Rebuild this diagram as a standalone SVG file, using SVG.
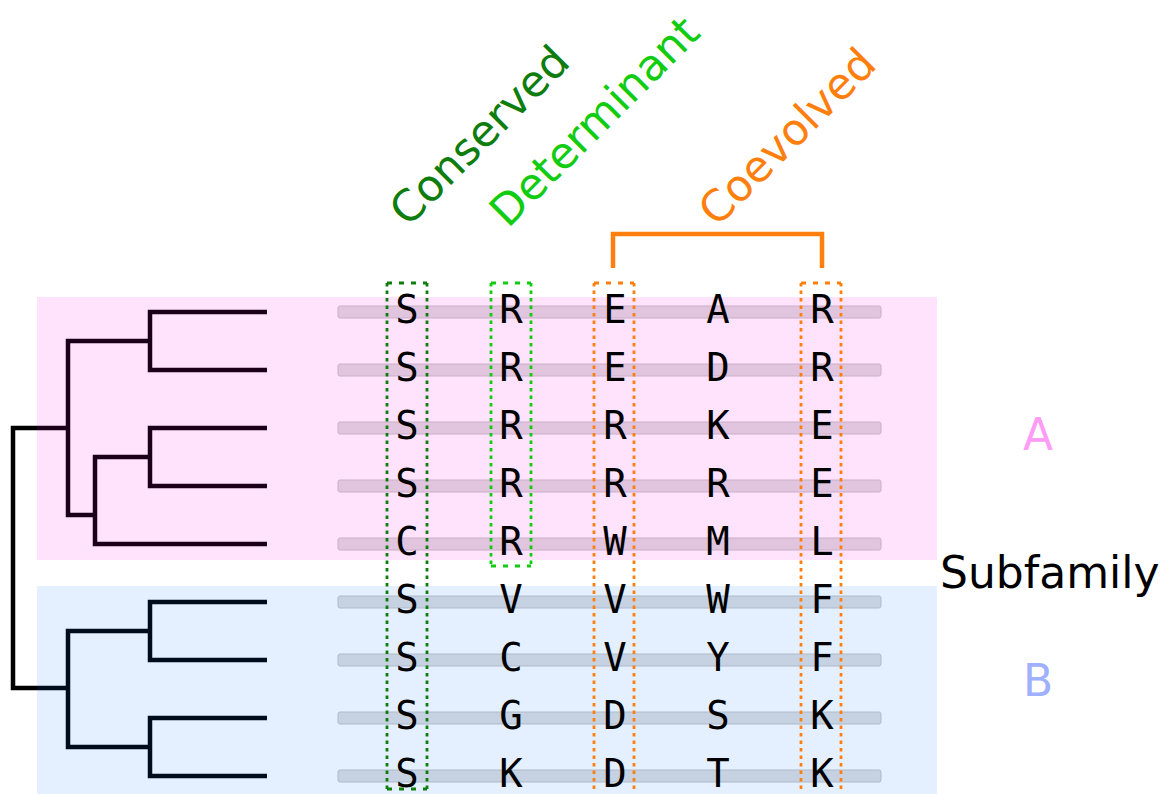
<svg xmlns="http://www.w3.org/2000/svg" width="1163" height="795" viewBox="0 0 1163 795">
<style>
.br{fill:none;stroke:#000;stroke-width:4.5;stroke-linejoin:miter;stroke-linecap:butt}
.bar{fill:#dedede;stroke:#c4c4c4;stroke-width:1}
.aa{font-family:"DejaVu Sans Mono","Liberation Mono",monospace;font-size:39px;fill:#000;text-anchor:middle}
.lbl{font-family:"DejaVu Sans","Liberation Sans",sans-serif;font-size:43.5px}
.big{font-family:"DejaVu Sans","Liberation Sans",sans-serif;font-size:44px}
.dh{fill:none;stroke-width:2.8;stroke-dasharray:5 7}
.dv{fill:none;stroke-width:2.8;stroke-dasharray:3.5 4}
.cons{stroke:#0e7d0e}
.det{stroke:#11cc11}
.coe{stroke:#ff7f0e}
</style>
<g id="connectors">
<path class="br" d="M68,428 H13 V688 H68"/>
<path class="br" d="M150,341 H68 V515 H95"/>
<path class="br" d="M267,312 H150 V370 H267"/>
<path class="br" d="M267,544 H95 V457 H150"/>
<path class="br" d="M267,428 H150 V486 H267"/>
<path class="br" d="M150,631 H68 V747 H150"/>
<path class="br" d="M267,602 H150 V660 H267"/>
<path class="br" d="M267,718 H150 V776 H267"/>
<path d="M613,268 V234 H822 V268" fill="none" stroke="#ff7f0e" stroke-width="4.5"/>
</g>
<g id="bars">
<rect class="bar" x="338" y="306" width="543" height="12" rx="2"/>
<rect class="bar" x="338" y="364" width="543" height="12" rx="2"/>
<rect class="bar" x="338" y="422" width="543" height="12" rx="2"/>
<rect class="bar" x="338" y="480" width="543" height="12" rx="2"/>
<rect class="bar" x="338" y="538" width="543" height="12" rx="2"/>
<rect class="bar" x="338" y="596" width="543" height="12" rx="2"/>
<rect class="bar" x="338" y="654" width="543" height="12" rx="2"/>
<rect class="bar" x="338" y="712" width="543" height="12" rx="2"/>
<rect class="bar" x="338" y="770" width="543" height="12" rx="2"/>
</g>
<g id="subfamily-A-box"><rect x="37" y="297" width="900" height="263" fill="#ff00e6" fill-opacity="0.11"/></g>
<g id="subfamily-B-box"><rect x="37" y="586" width="900" height="208" fill="#0071ff" fill-opacity="0.106"/></g>
<g id="conserved-box">
<path class="dh cons" d="M387,283 H427 M387,789 H427"/>
<path class="dv cons" d="M387,283 V789 M427,283 V789"/>
</g>
<g id="determinant-box">
<path class="dh det" d="M491,283 H531 M491,566 H531"/>
<path class="dv det" d="M491,283 V566 M531,283 V566"/>
</g>
<g id="coevolved-box-1">
<path class="dh coe" d="M594,283 H634"/>
<path class="dv coe" d="M594,283 V789 M634,283 V789"/>
</g>
<g id="coevolved-box-2">
<path class="dh coe" d="M801,283 H841"/>
<path class="dv coe" d="M801,283 V789 M841,283 V789"/>
</g>
<g id="alignment" class="aa">
<g id="row1"><text x="407" y="323">S</text><text x="511" y="323">R</text><text x="615" y="323">E</text><text x="718" y="323">A</text><text x="822" y="323">R</text></g>
<g id="row2"><text x="407" y="381">S</text><text x="511" y="381">R</text><text x="615" y="381">E</text><text x="718" y="381">D</text><text x="822" y="381">R</text></g>
<g id="row3"><text x="407" y="439">S</text><text x="511" y="439">R</text><text x="615" y="439">R</text><text x="718" y="439">K</text><text x="822" y="439">E</text></g>
<g id="row4"><text x="407" y="497">S</text><text x="511" y="497">R</text><text x="615" y="497">R</text><text x="718" y="497">R</text><text x="822" y="497">E</text></g>
<g id="row5"><text x="407" y="555">C</text><text x="511" y="555">R</text><text x="615" y="555">W</text><text x="718" y="555">M</text><text x="822" y="555">L</text></g>
<g id="row6"><text x="407" y="613">S</text><text x="511" y="613">V</text><text x="615" y="613">V</text><text x="718" y="613">W</text><text x="822" y="613">F</text></g>
<g id="row7"><text x="407" y="671">S</text><text x="511" y="671">C</text><text x="615" y="671">V</text><text x="718" y="671">Y</text><text x="822" y="671">F</text></g>
<g id="row8"><text x="407" y="729">S</text><text x="511" y="729">G</text><text x="615" y="729">D</text><text x="718" y="729">S</text><text x="822" y="729">K</text></g>
<g id="row9"><text x="407" y="787">S</text><text x="511" y="787">K</text><text x="615" y="787">D</text><text x="718" y="787">T</text><text x="822" y="787">K</text></g>
</g>
<g id="label-conserved"><text class="lbl" fill="#0e7d0e" transform="translate(408,228) rotate(-45)">Conserved</text></g>
<g id="label-determinant"><text class="lbl" fill="#11cc11" transform="translate(508,229) rotate(-45)">Determinant</text></g>
<g id="label-coevolved"><text class="lbl" fill="#ff7f0e" transform="translate(717,228) rotate(-45)">Coevolved</text></g>
<g id="label-A"><text class="big" x="1038" y="450" fill="#ff9cf5" text-anchor="middle">A</text></g>
<g id="label-subfamily"><text class="big" x="940" y="588" fill="#000">Subfamily</text></g>
<g id="label-B"><text class="big" x="1038" y="696" fill="#9fb0ff" text-anchor="middle">B</text></g>
</svg>
